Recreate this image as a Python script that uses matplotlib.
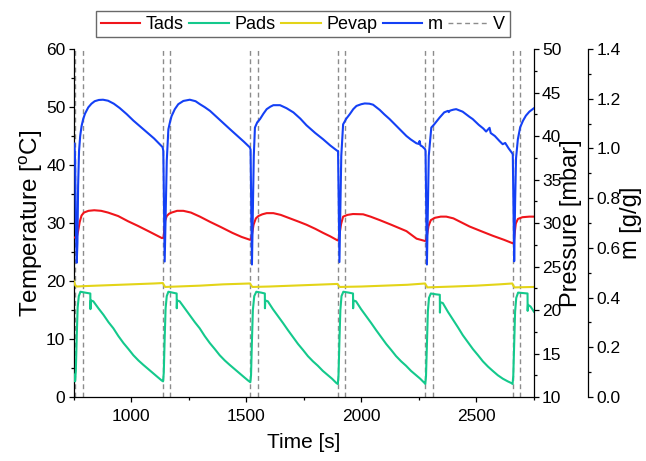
import matplotlib
matplotlib.use('Agg')
import matplotlib.pyplot as plt
from matplotlib.ticker import MultipleLocator

plt.rcParams['font.family'] = ['Liberation Sans', 'DejaVu Sans']

# valve switching times (V)
v_times = [755, 792, 1138, 1171, 1518, 1551, 1898, 1931, 2278, 2311, 2657, 2690]

# adsorbent temperature Tads [C]
t_tads = [750, 760, 765, 770, 777, 785, 795, 815, 840, 870, 900, 944, 987, 1030, 1080, 1134,
          1141, 1144, 1148, 1155, 1165, 1176, 1200, 1227, 1260, 1299, 1343, 1390, 1440, 1480, 1517,
          1521, 1525, 1532, 1542, 1553, 1570, 1589, 1618, 1650, 1690, 1730, 1762, 1800, 1834, 1865, 1897,
          1901, 1905, 1912, 1921, 1940, 1964, 2008, 2040, 2080, 2130, 2196, 2240, 2277,
          2281, 2285, 2292, 2302, 2320, 2345, 2369, 2400, 2440, 2470, 2520, 2571, 2620, 2658,
          2662, 2666, 2671, 2680, 2700, 2730, 2750]
tads = [27.5, 27.5, 27.7, 28.6, 30.2, 31.3, 31.8, 32.1, 32.2, 32.1, 31.8, 31.2, 30.3, 29.5, 28.5, 27.4,
        27.5, 28.8, 30.4, 31.2, 31.6, 31.8, 32.1, 32.1, 31.8, 31.1, 30.2, 29.3, 28.3, 27.6, 27.1,
        27.2, 28.0, 29.7, 30.8, 31.2, 31.5, 31.7, 31.7, 31.4, 30.8, 30.2, 29.7, 29.0, 28.3, 27.7, 27.0,
        27.1, 28.0, 29.8, 31.1, 31.4, 31.55, 31.5, 31.1, 30.5, 29.7, 28.6, 27.3, 26.9,
        27.0, 27.8, 29.5, 30.5, 30.9, 31.1, 31.1, 30.8, 30.0, 29.4, 28.6, 27.8, 27.1, 26.5,
        26.6, 28.2, 29.9, 30.7, 31.0, 31.1, 31.1]

# adsorber pressure Pads [mbar]
t_pads = [750, 754, 757, 760, 764, 768, 773, 780, 800, 823, 823.5, 825, 836, 858, 880, 902, 923, 945,
          967, 989, 1010, 1032, 1053, 1075, 1097, 1115, 1133, 1139,
          1142, 1146, 1150, 1155, 1162, 1180, 1198, 1198.5, 1200, 1211, 1233, 1255, 1277, 1298, 1320,
          1342, 1364, 1385, 1407, 1428, 1450, 1472, 1490, 1508, 1518,
          1521, 1525, 1529, 1535, 1544, 1565, 1581, 1581.5, 1583, 1594, 1616, 1638, 1660, 1681, 1703,
          1725, 1747, 1768, 1790, 1811, 1833, 1855, 1873, 1892, 1898,
          1901, 1905, 1909, 1914, 1922, 1945, 1964, 1964.5, 1966, 1977, 1999, 2021, 2043, 2064, 2086,
          2108, 2130, 2151, 2173, 2194, 2216, 2238, 2256, 2275, 2278,
          2281, 2285, 2289, 2294, 2302, 2325, 2341, 2341.5, 2343, 2354, 2376, 2398, 2420, 2441, 2463,
          2485, 2507, 2528, 2550, 2571, 2593, 2615, 2636, 2652, 2657,
          2660, 2664, 2668, 2673, 2681, 2700, 2722, 2722.5, 2724, 2735, 2750]
pads = [12.6, 12.0, 11.8, 13.0, 17.0, 20.3, 21.6, 22.1, 22.0, 21.9, 20.1, 21.1, 21.0, 20.2, 19.45, 18.6, 17.9, 17.0,
        16.2, 15.5, 14.8, 14.2, 13.7, 13.2, 12.7, 12.3, 11.9, 11.8,
        12.8, 16.8, 20.2, 21.6, 22.1, 22.0, 21.9, 20.2, 21.1, 21.0, 20.2, 19.4, 18.6, 17.9, 17.0,
        16.2, 15.5, 14.8, 14.2, 13.7, 13.2, 12.7, 12.3, 11.9, 11.7,
        12.5, 16.5, 20.0, 21.6, 22.1, 22.0, 21.9, 20.2, 21.1, 21.0, 20.1, 19.3, 18.5, 17.7, 16.9,
        16.1, 15.4, 14.7, 14.1, 13.6, 13.0, 12.5, 12.1, 11.6, 11.5,
        12.5, 16.5, 20.0, 21.6, 22.1, 22.0, 21.9, 20.2, 21.1, 21.0, 20.1, 19.3, 18.5, 17.7, 16.9,
        16.1, 15.4, 14.7, 14.1, 13.6, 13.0, 12.5, 12.1, 11.6, 11.5,
        12.4, 16.3, 19.8, 21.4, 21.9, 21.8, 21.75, 19.7, 20.9, 20.8, 19.8, 18.9, 18.0, 17.1, 16.3,
        15.5, 14.8, 14.1, 13.5, 13.0, 12.5, 12.1, 11.8, 11.6, 11.5,
        12.4, 16.3, 19.8, 21.4, 22.0, 21.95, 21.9, 19.9, 20.6, 20.4, 19.8]

# evaporator pressure Pevap [mbar]
t_pevap = [750, 753, 758, 765, 800, 900, 1000, 1100, 1138, 1142, 1148, 1200, 1300, 1400, 1517,
           1521, 1527, 1600, 1700, 1800, 1897, 1901, 1907, 2000, 2100, 2200, 2277, 2281, 2287,
           2400, 2500, 2600, 2656, 2660, 2666, 2750]
pevap = [23.4, 23.2, 22.8, 22.7, 22.75, 22.85, 22.95, 23.05, 23.1, 22.9, 22.65, 22.7, 22.8, 22.95, 23.05,
         22.85, 22.65, 22.7, 22.8, 22.9, 23.0, 22.8, 22.65, 22.7, 22.8, 22.9, 23.05, 22.85, 22.6,
         22.7, 22.8, 22.95, 23.05, 22.8, 22.6, 22.65]

# water uptake m [g/g]
t_m = [750, 754, 757, 760, 764, 767, 770, 774, 779, 785, 792, 800, 814, 828, 842, 860, 878, 900, 925,
       950, 981, 1010, 1040, 1070, 1100, 1126, 1137,
       1140, 1143, 1146, 1150, 1155, 1162, 1170, 1176, 1190, 1205, 1227, 1255, 1280, 1299, 1320, 1343,
       1370, 1400, 1430, 1460, 1490, 1516,
       1519, 1522, 1525, 1529, 1533, 1538, 1548, 1560, 1575, 1589, 1605, 1618, 1647, 1675, 1705, 1735,
       1762, 1800, 1834, 1865, 1896,
       1899, 1902, 1905, 1909, 1913, 1921, 1935, 1950, 1965, 1979, 2000, 2015, 2035, 2051, 2080, 2100,
       2123, 2150, 2175, 2196, 2215, 2239, 2250, 2253, 2257, 2265, 2277,
       2279, 2282, 2285, 2289, 2293, 2304, 2315, 2340, 2360, 2376, 2380, 2385, 2400, 2412, 2440, 2470,
       2484, 2510, 2530, 2542, 2549, 2557, 2562, 2580, 2600, 2614, 2625, 2640, 2656,
       2658, 2661, 2664, 2668, 2672, 2680, 2690, 2702, 2715, 2730, 2750]
m = [1.02, 1.02, 0.95, 0.70, 0.54, 0.62, 0.85, 0.99, 1.05, 1.09, 1.118, 1.140, 1.165, 1.180, 1.190, 1.195, 1.196, 1.192, 1.180,
     1.163, 1.138, 1.112, 1.088, 1.064, 1.040, 1.015, 1.005,
     0.99, 0.75, 0.545, 0.72, 0.95, 1.077, 1.11, 1.13, 1.158, 1.178, 1.191, 1.196, 1.19, 1.178, 1.166, 1.151,
     1.128, 1.102, 1.077, 1.052, 1.027, 1.004,
     0.995, 0.75, 0.533, 0.75, 0.97, 1.084, 1.105, 1.118, 1.14, 1.158, 1.168, 1.174, 1.174, 1.162, 1.145, 1.12,
     1.093, 1.062, 1.037, 1.012, 0.99,
     0.99, 0.75, 0.543, 0.75, 0.97, 1.097, 1.12, 1.138, 1.158, 1.171, 1.178, 1.181, 1.180, 1.176, 1.155, 1.137,
     1.118, 1.093, 1.070, 1.050, 1.036, 1.021, 1.018, 1.03, 1.012, 1.008, 0.997,
     0.99, 0.75, 0.533, 0.75, 0.97, 1.084, 1.095, 1.124, 1.145, 1.151, 1.146, 1.152, 1.156, 1.158, 1.148, 1.127,
     1.118, 1.095, 1.080, 1.068, 1.075, 1.083, 1.062, 1.05, 1.03, 1.017, 1.022, 1.0, 0.98,
     0.975, 0.75, 0.546, 0.78, 0.96, 1.037, 1.085, 1.111, 1.132, 1.148, 1.162]

fig = plt.figure(figsize=(6.46, 4.61), dpi=100)
ax = fig.add_axes([0.1138, 0.1388, 0.8266 - 0.1138, 0.8937 - 0.1388])
ax2 = ax.twinx()
ax3 = ax.twinx()
ax3.spines['right'].set_position(('outward', 39))

for i, tv in enumerate(v_times):
    ax.axvline(tv, color='#8c8c8c', ls=(0, (3.5, 2.5)), lw=1.0, label='V' if i == 0 else None, zorder=1)

l1, = ax.plot(t_tads, tads, color='#f0151b', lw=1.5, label='Tads', zorder=3)
l2, = ax2.plot(t_pads, pads, color='#14c98c', lw=1.5, label='Pads')
l3, = ax2.plot(t_pevap, pevap, color='#e3d418', lw=1.5, label='Pevap')
l4, = ax3.plot(t_m, m, color='#1440f5', lw=1.5, label='m')
lv = ax.get_lines()[0]

ax.set_xlim(750, 2750)
ax.set_ylim(0, 60)
ax2.set_ylim(10, 50)
ax3.set_ylim(0, 1.4)

ax.xaxis.set_major_locator(MultipleLocator(500))
ax.xaxis.set_minor_locator(MultipleLocator(250))
ax.yaxis.set_major_locator(MultipleLocator(10))
ax.yaxis.set_minor_locator(MultipleLocator(5))
ax2.yaxis.set_major_locator(MultipleLocator(5))
ax2.yaxis.set_minor_locator(MultipleLocator(2.5))
ax3.yaxis.set_major_locator(MultipleLocator(0.2))
ax3.yaxis.set_minor_locator(MultipleLocator(0.1))
ax3.yaxis.set_major_formatter(plt.FormatStrFormatter('%.1f'))

for a in (ax, ax2, ax3):
    a.spines['top'].set_visible(False)
    a.tick_params(which='major', direction='out', length=3.8, width=0.9, labelsize=12.5, pad=2)
    a.tick_params(which='minor', direction='out', length=2.2, width=0.9)
    for s in a.spines.values():
        s.set_linewidth(0.9)
ax.tick_params(axis='x', which='major', pad=5)
ax.spines['right'].set_visible(False)
for a in (ax2, ax3):
    a.spines['left'].set_visible(False)
    a.spines['bottom'].set_visible(False)

ax.set_xlabel('Time [s]', fontsize=15, labelpad=6)
ax.set_ylabel(r'Temperature [$\mathregular{^oC}$]', fontsize=17.5, labelpad=1)
ax2.set_ylabel('Pressure [mbar]', fontsize=17, labelpad=-1)
ax3.set_ylabel('m [g/g]', fontsize=17, labelpad=0)

fig.legend([l1, l2, l3, l4, lv], ['Tads', 'Pads', 'Pevap', 'm', 'V'], loc='center',
           bbox_to_anchor=(0.469, 0.947), ncol=5, fontsize=13, frameon=True, fancybox=False,
           edgecolor='#444444', handlelength=2.2, handletextpad=0.3, columnspacing=0.3,
           borderpad=0.25, borderaxespad=0)

fig.savefig('out.png', dpi=100)
